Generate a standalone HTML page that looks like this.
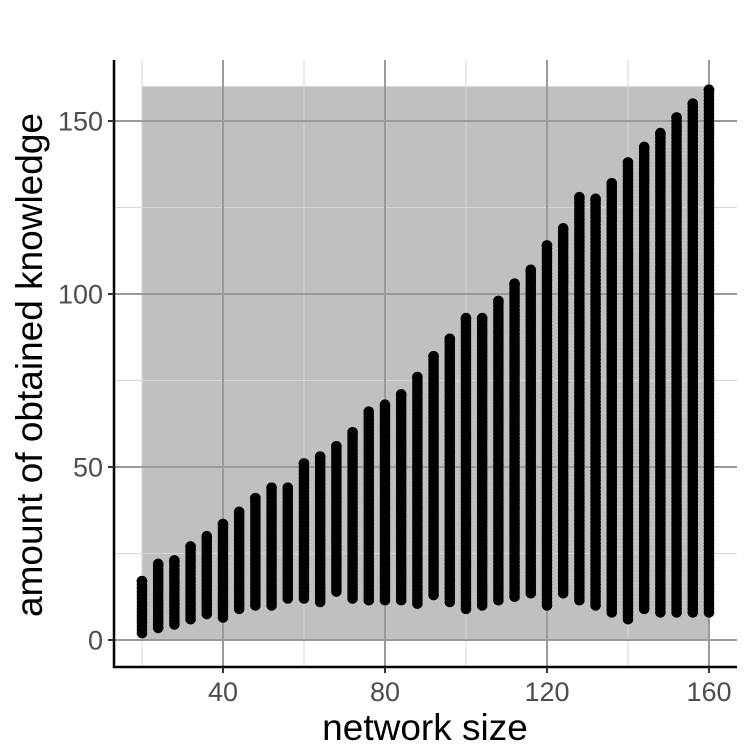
<!DOCTYPE html>
<html><head><meta charset="utf-8"><style>body{margin:0;background:#fff}svg{display:block}text{font-family:"Liberation Sans",sans-serif}</style></head>
<body>
<svg id="chart" width="750" height="750"></svg>
<script>
const sizes=[20,24,28,32,36,40,44,48,52,56,60,64,68,72,76,80,84,88,92,96,100,104,108,112,116,120,124,128,132,136,140,144,148,152,156,160];
const maxVals=[17,22,23,27,30,33.5,37,41,44,44,51,53,56,60,66,68,71,76,82,87,93,93,98,103,107,114,119,128,127.5,132,138,142.5,146.5,151,155,159];
const minVals=[2,3.5,4.5,6,7.5,6.5,9,10,10,12,12,11,14,12,11.5,11.5,11.5,10.5,13,11,9,10,11.5,12.5,13.5,10,13.5,11.5,10,8,6,9,8,8,8,8,3];
const xTicks=[40,80,120,160];
const yTicks=[0,50,100,150];
const xMinor=[20,60,100,140];
const yMinor=[25,75,125];
const NS="http://www.w3.org/2000/svg";
const svg=document.getElementById('chart');
const X=v=>223+(v-40)*4.05;
const Y=v=>640-v*3.46;
function mk(t,a){const e=document.createElementNS(NS,t);for(const k in a)e.setAttribute(k,a[k]);svg.appendChild(e);return e;}
let bg=mk('rect',{x:X(20),y:Y(160),width:X(160)-X(20),height:Y(0)-Y(160),fill:'#c0c0c0'});


xMinor.forEach(v=>{let l=mk('line',{x1:X(v),x2:X(v),y1:60,y2:667,stroke:'#d6d6d6','stroke-width':1});

});
yMinor.forEach(v=>{let l=mk('line',{x1:114,x2:737,y1:Y(v),y2:Y(v),stroke:'#d6d6d6','stroke-width':1});

});
xTicks.forEach(v=>{let l=mk('line',{x1:X(v),x2:X(v),y1:60,y2:667,stroke:'#9a9a9a','stroke-width':2});

});
yTicks.forEach(v=>{let l=mk('line',{x1:114,x2:737,y1:Y(v),y2:Y(v),stroke:'#9a9a9a','stroke-width':2});

});
sizes.forEach((s,i)=>{
  const g=mk('g',{fill:'#000'});
  
  
  for(let v=minVals[i];v<=maxVals[i]+0.01;v+=1){
    const c=document.createElementNS(NS,'circle');
    c.setAttribute('cx',X(s));c.setAttribute('cy',Y(Math.min(v,maxVals[i])));c.setAttribute('r',5.3);
    g.appendChild(c);
  }
  const c=document.createElementNS(NS,'circle');
  c.setAttribute('cx',X(s));c.setAttribute('cy',Y(maxVals[i]));c.setAttribute('r',5.3);
  g.appendChild(c);
});
let ya=mk('line',{x1:114,x2:114,y1:60,y2:668,stroke:'#000','stroke-width':2.5});


let xa=mk('line',{x1:113,x2:737,y1:667,y2:667,stroke:'#000','stroke-width':2.5});


xTicks.forEach(v=>{let t=mk('line',{x1:X(v),x2:X(v),y1:667,y2:673,stroke:'#333','stroke-width':2});


let l=mk('text',{x:X(v),y:701,'text-anchor':'middle','font-size':27,fill:'#4d4d4d'});l.textContent=v;

});
yTicks.forEach(v=>{let t=mk('line',{x1:108,x2:114,y1:Y(v),y2:Y(v),stroke:'#333','stroke-width':2});


let l=mk('text',{x:103,y:Y(v)+9.5,'text-anchor':'end','font-size':27,fill:'#4d4d4d'});l.textContent=v;

});
let xt=mk('text',{x:425,y:740,'text-anchor':'middle','font-size':37,fill:'#000'});xt.textContent='network size';


let yt=mk('text',{x:0,y:0,'text-anchor':'middle','font-size':37,fill:'#000',transform:'translate(42,365) rotate(-90)'});yt.textContent='amount of obtained knowledge';


</script>
</body></html>
